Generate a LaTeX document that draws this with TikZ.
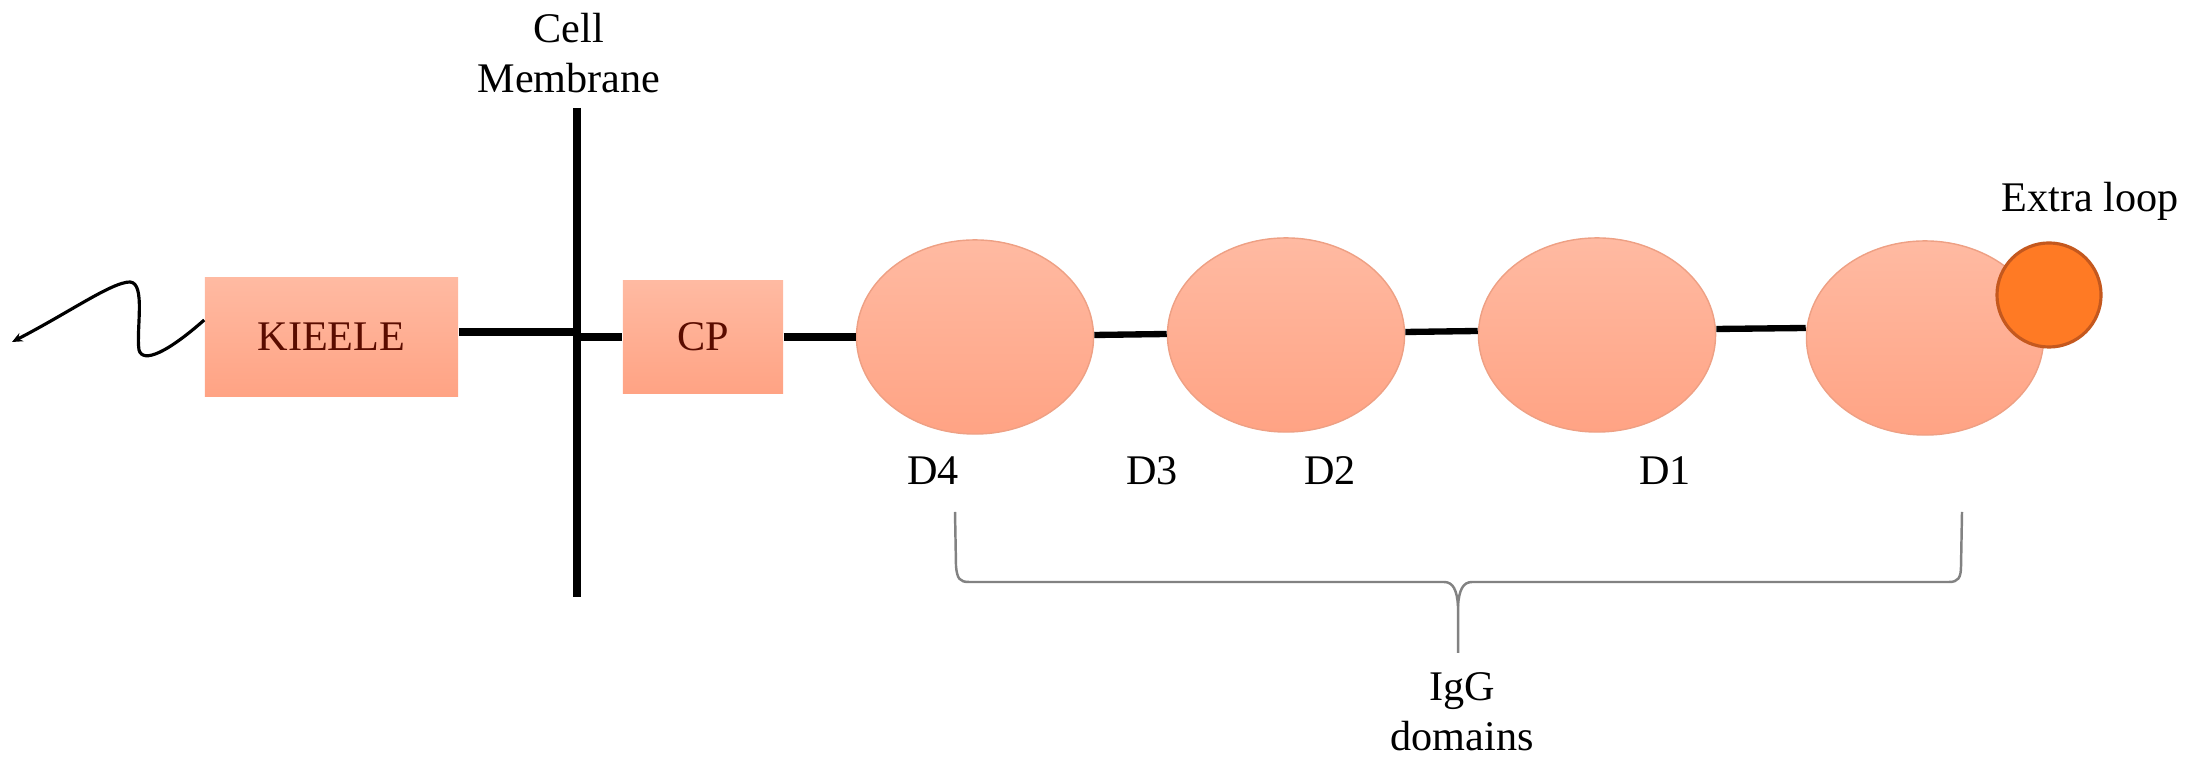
\documentclass[tikz,border=0pt]{standalone}
\usepackage{fontspec}
\setmainfont{Liberation Serif}
\usetikzlibrary{shapes.geometric,arrows.meta,calc}
\definecolor{salmonT}{RGB}{255,186,162}
\definecolor{salmonB}{RGB}{255,163,132}
\definecolor{salmonEdge}{RGB}{238,160,132}
\definecolor{loopFill}{RGB}{255,122,36}
\definecolor{loopEdge}{RGB}{196,88,30}
\definecolor{boxText}{RGB}{90,12,0}
\definecolor{braceGray}{RGB}{130,130,130}
\begin{document}
\begin{tikzpicture}[x=0.01cm,y=-0.01cm,
  every node/.style={font=\fontsize{12}{14.5}\selectfont},
  domainbox/.style={rectangle,inner sep=0pt,top color=salmonT,bottom color=salmonB,
    draw=none,text=boxText},
  igdomain/.style={ellipse,inner sep=0pt,minimum width=2.37cm,minimum height=1.94cm,
    top color=salmonT,bottom color=salmonB,draw=salmonEdge,line width=0.4pt},
  extraloop/.style={circle,inner sep=0pt,minimum size=1.04cm,fill=loopFill,
    draw=loopEdge,line width=0.9pt},
  thickline/.style={line width=2pt,black},
  linkline/.style={line width=1.8pt,black},
  label/.style={inner sep=0pt,anchor=base}]
\useasboundingbox (0,0) rectangle (2188,771);

% membrane
\coordinate (mt) at (577,108);
\coordinate (mb) at (577,597);
\draw[line width=2pt] (mt) -- (mb);
\node[label] (cell) at (569,43) {Cell};
\node[label] (memb) at (569,93) {Membrane};

% boxes
\node[domainbox,minimum width=2.53cm,minimum height=1.18cm] (kieele) at (331.5,337) {KIEELE};
\node[domainbox,minimum width=1.60cm,minimum height=1.12cm] (cp) at (703,337) {CP};

% wavy tail
\coordinate (tip) at (12,342);
\draw[line width=0.9pt,{Stealth[length=3pt,width=2.6pt]}-]
  (tip) .. controls (70,312) and (112,282) .. (130,282)
  .. controls (146,283) and (136,330) .. (139,350)
  .. controls (143,364) and (168,352) .. (kieele.west |- 0,320);

% ellipses
\node[igdomain] (e4) at (975,337) {};
\node[igdomain] (e3) at (1286,335) {};
\node[igdomain] (e2) at (1597,335) {};
\node[igdomain] (e1) at (1925,338) {};
\node[extraloop] (xl) at (2049,295) {};

% connectors
\coordinate (j1) at (577,332);
\coordinate (j2) at (577,337);
\draw[thickline] (kieele.east |- j1) -- (j1);
\draw[thickline] (j2) -- (cp.west);
\draw[thickline] (cp.east) -- (e4.west);
\draw[linkline] ($(e4.east)+(0,-2)$) -- ($(e3.west)+(0,-1)$);
\draw[linkline] ($(e3.east)+(0,-3)$) -- ($(e2.west)+(0,-4)$);
\draw[linkline] ($(e2.east)+(0,-6)$) -- ($(e1.west)+(0,-10)$);

% labels
\node[label] (d4) at (933,485) {D4};
\node[label] (d3) at (1152,485) {D3};
\node[label] (d2) at (1330,485) {D2};
\node[label] (d1) at (1665,485) {D1};
\node[label] (xltext) at (2090,212) {Extra loop};
\node[label] (igg) at (1462,701) {IgG};
\node[label] (dom) at (1462,751) {domains};

% brace
\draw[braceGray,line width=0.7pt]
  (955,512) -- (956,566) .. controls (957,579) and (960,582) .. (969,582)
  -- (1444,582) .. controls (1453,582) and (1457,590) .. (1458,606) -- (1458,653);
\draw[braceGray,line width=0.7pt]
  (1458,606) .. controls (1459,590) and (1463,582) .. (1472,582)
  -- (1949,582) .. controls (1958,582) and (1961,578) .. (1961,566) -- (1962,512);
\end{tikzpicture}
\end{document}
